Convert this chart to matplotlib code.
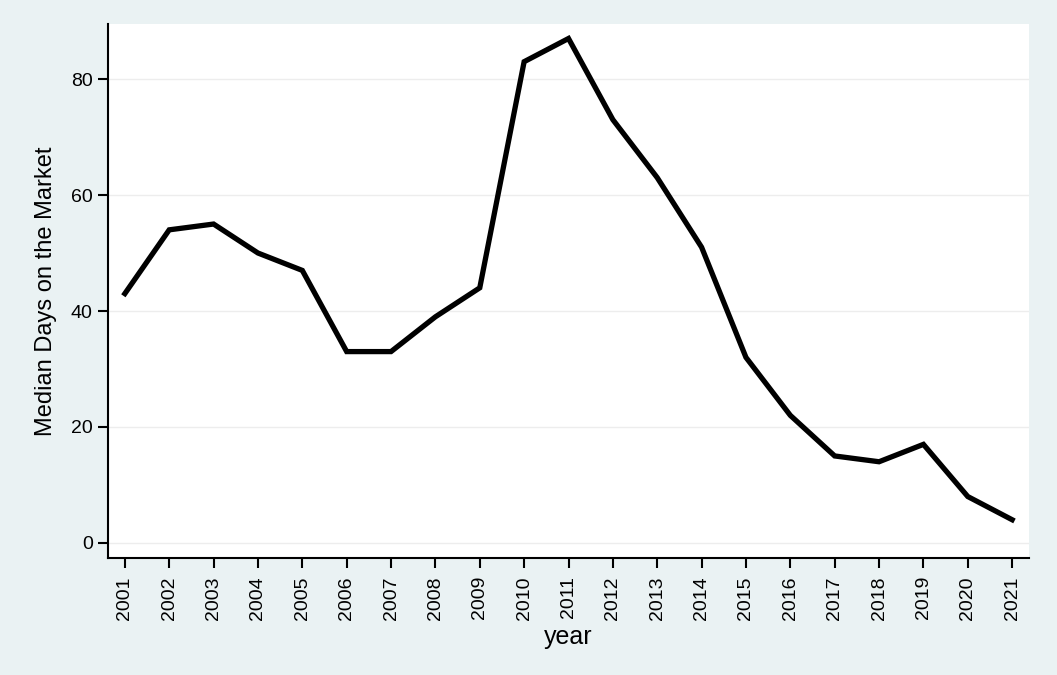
import matplotlib
matplotlib.use("Agg")
import matplotlib.pyplot as plt
from matplotlib import font_manager

years = list(range(2001, 2022))
median_days = [43, 54, 55, 50, 47, 33, 33, 39, 44, 83, 87, 73, 63, 51, 32, 22, 15, 14, 17, 8, 4]
yticks = [0, 20, 40, 60, 80]

plt.rcParams['font.family'] = ['Liberation Sans', 'DejaVu Sans']
names = {f.name for f in font_manager.fontManager.ttflist}
narrow = 'Liberation Sans Narrow' if 'Liberation Sans Narrow' in names else 'Liberation Sans'

fig = plt.figure(figsize=(10.57, 6.75), dpi=100, facecolor='#EAF2F3')
ax = fig.add_axes([108/1057, 1 - 558/675, (1029-108)/1057, (558-24)/675])
ax.set_facecolor('white')
ax.plot(years, median_days, color='black', linewidth=3.8, solid_joinstyle='miter')
ax.set_xlim(2000.62, 2021.38)
ax.set_ylim(-2.6, 89.5)
ax.set_yticks(yticks)
ax.set_xticks(years)
ax.set_xticklabels([str(y) for y in years], rotation=90,
                   fontsize=16 if narrow != 'Liberation Sans' else 14,
                   family=[narrow, 'DejaVu Sans'])
ax.tick_params(axis='y', labelsize=14)
ax.tick_params(axis='both', length=7, width=1.5, color='black')
ax.tick_params(axis='x', pad=6)
ax.tick_params(axis='y', pad=4)
for y in yticks:
    ax.axhline(y, color='#EDEDED', linewidth=1, zorder=0)
for s in ['top', 'right']:
    ax.spines[s].set_visible(False)
for s in ['left', 'bottom']:
    ax.spines[s].set_linewidth(1.5)
ax.set_ylabel('Median Days on the Market', fontsize=17, labelpad=10)
ax.set_xlabel('year', fontsize=18, labelpad=4)
fig.savefig('out.png', dpi=100, facecolor=fig.get_facecolor())
